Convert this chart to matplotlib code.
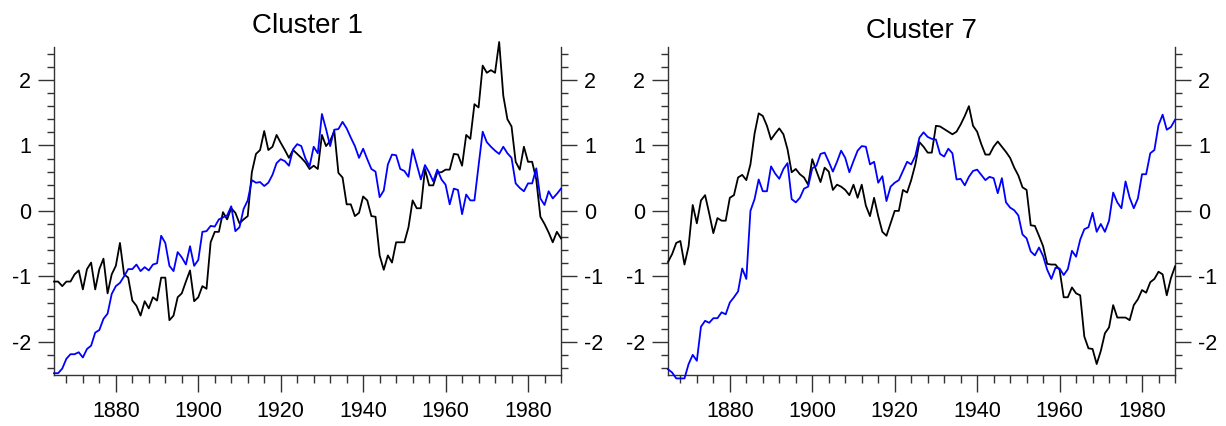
import numpy as np
import matplotlib
matplotlib.use("Agg")
import matplotlib.pyplot as plt
from matplotlib.ticker import MultipleLocator

plt.rcParams['font.family'] = ['Liberation Sans', 'DejaVu Sans']
plt.rcParams['axes.unicode_minus'] = False

years = np.arange(1865, 1989)

titles = ["Cluster 1", "Cluster 7"]

# Cluster 1: black and blue annual index series
c1_black = [
    -1.08, -1.08, -1.15, -1.08, -1.08, -0.97, -0.91, -1.20, -0.89, -0.79,
    -1.20, -0.89, -0.73, -1.26, -0.97, -0.84, -0.49, -0.97, -1.02, -1.37,
    -1.45, -1.60, -1.38, -1.49, -1.32, -1.37, -1.02, -1.02, -1.67, -1.60,
    -1.32, -1.26, -1.08, -0.91, -1.38, -1.32, -1.15, -1.19, -0.48, -0.32,
    -0.32, -0.02, -0.13, 0.04, -0.03, -0.19, -0.13, -0.08, 0.59, 0.87,
    0.93, 1.22, 0.93, 0.98, 1.16, 1.04, 0.93, 0.81, 0.93, 0.87,
    0.81, 0.74, 0.64, 0.69, 0.64, 1.16, 0.99, 1.07, 1.22, 0.58,
    0.51, 0.10, 0.10, -0.08, -0.03, 0.22, 0.16, -0.08, -0.09, -0.68,
    -0.90, -0.68, -0.79, -0.48, -0.48, -0.48, -0.25, 0.16, 0.04, 0.04,
    0.64, 0.39, 0.39, 0.59, 0.59, 0.63, 0.63, 0.87, 0.86, 0.69,
    1.16, 1.10, 1.63, 1.58, 2.22, 2.11, 2.15, 2.11, 2.58, 1.76,
    1.40, 1.29, 0.75, 0.63, 0.98, 0.75, 0.75, 0.48, -0.09, -0.20,
    -0.33, -0.48, -0.32, -0.42,
]
c1_blue = [
    -2.48, -2.48, -2.41, -2.26, -2.19, -2.19, -2.16, -2.24, -2.11, -2.06,
    -1.86, -1.82, -1.65, -1.57, -1.27, -1.15, -1.10, -1.00, -0.89, -0.89,
    -0.82, -0.92, -0.86, -0.91, -0.82, -0.80, -0.38, -0.49, -0.84, -0.92,
    -0.63, -0.71, -0.82, -0.54, -0.84, -0.75, -0.32, -0.31, -0.23, -0.24,
    -0.13, -0.10, -0.07, 0.07, -0.31, -0.25, 0.03, 0.16, 0.47, 0.43,
    0.44, 0.38, 0.43, 0.55, 0.73, 0.79, 0.76, 0.69, 0.94, 1.02,
    0.99, 0.80, 0.68, 0.98, 0.88, 1.48, 1.25, 0.99, 1.24, 1.25,
    1.36, 1.26, 1.12, 0.99, 0.81, 0.95, 0.79, 0.64, 0.60, 0.21,
    0.31, 0.71, 0.86, 0.85, 0.64, 0.61, 0.52, 0.94, 0.71, 0.48,
    0.70, 0.59, 0.45, 0.63, 0.48, 0.40, 0.10, 0.34, 0.32, -0.05,
    0.25, 0.16, 0.16, 0.69, 1.21, 1.05, 0.98, 0.92, 0.87, 0.98,
    0.88, 0.81, 0.42, 0.35, 0.30, 0.42, 0.42, 0.65, 0.19, 0.09,
    0.30, 0.19, 0.26, 0.34,
]

# Cluster 7: black and blue annual index series
c7_black = [
    -0.78, -0.66, -0.49, -0.46, -0.82, -0.54, 0.09, -0.19, 0.16, 0.24,
    -0.04, -0.34, -0.11, -0.15, -0.15, 0.20, 0.24, 0.51, 0.55, 0.47,
    0.71, 1.18, 1.49, 1.45, 1.30, 1.09, 1.18, 1.26, 1.17, 0.94,
    0.59, 0.64, 0.56, 0.51, 0.40, 0.79, 0.61, 0.44, 0.66, 0.60,
    0.32, 0.40, 0.37, 0.32, 0.24, 0.40, 0.20, 0.40, 0.08, -0.08,
    0.20, -0.08, -0.32, -0.38, -0.19, 0.00, 0.00, 0.32, 0.28, 0.47,
    0.71, 1.05, 0.98, 0.89, 0.89, 1.30, 1.29, 1.25, 1.21, 1.17,
    1.21, 1.32, 1.45, 1.60, 1.30, 1.21, 1.02, 0.86, 0.86, 0.98,
    1.06, 0.98, 0.90, 0.81, 0.66, 0.54, 0.36, 0.32, -0.22, -0.23,
    -0.38, -0.54, -0.81, -0.82, -0.82, -0.90, -1.32, -1.32, -1.17, -1.26,
    -1.29, -1.92, -2.10, -2.11, -2.34, -2.14, -1.87, -1.78, -1.44, -1.63,
    -1.63, -1.63, -1.67, -1.44, -1.35, -1.21, -1.25, -1.09, -1.04, -0.93,
    -0.97, -1.29, -1.03, -0.85,
]
c7_blue = [
    -2.42, -2.47, -2.56, -2.56, -2.56, -2.34, -2.20, -2.29, -1.77, -1.68,
    -1.71, -1.64, -1.64, -1.55, -1.58, -1.40, -1.32, -1.23, -0.88, -1.04,
    0.00, 0.18, 0.48, 0.30, 0.30, 0.68, 0.57, 0.49, 0.64, 0.73,
    0.18, 0.13, 0.20, 0.34, 0.37, 0.65, 0.69, 0.87, 0.89, 0.75,
    0.60, 0.75, 0.92, 0.81, 0.59, 0.76, 0.92, 0.99, 0.98, 0.71,
    0.75, 0.43, 0.53, 0.15, 0.37, 0.43, 0.47, 0.61, 0.75, 0.71,
    0.84, 1.12, 1.20, 1.13, 1.10, 1.09, 0.87, 0.83, 0.95, 0.88,
    0.48, 0.49, 0.39, 0.52, 0.61, 0.63, 0.55, 0.47, 0.52, 0.50,
    0.27, 0.50, 0.13, 0.05, 0.01, -0.07, -0.36, -0.42, -0.62, -0.68,
    -0.56, -0.69, -0.90, -1.04, -0.87, -0.88, -0.98, -0.89, -0.61, -0.70,
    -0.44, -0.28, -0.25, -0.03, -0.32, -0.20, -0.32, -0.15, 0.28, 0.13,
    0.04, 0.45, 0.20, 0.04, 0.19, 0.56, 0.56, 0.88, 0.93, 1.31,
    1.47, 1.24, 1.28, 1.39,
]

panels = [
    (titles[0], c1_black, c1_blue),
    (titles[1], c7_black, c7_blue),
]

fig = plt.figure(figsize=(12.26, 4.26), dpi=100)
W, H = 1226.0, 426.0
boxes = [(54, 561), (668, 1175)]
top_px, bot_px = 47.25, 374.5
title_offset = [1.044, 1.027]

axis_color = "#333333"

for k, (title, black, blue) in enumerate(panels):
    x0, x1 = boxes[k]
    ax = fig.add_axes([x0 / W, 1 - bot_px / H, (x1 - x0) / W, (bot_px - top_px) / H])
    ax.plot(years, black, color="black", lw=1.3, clip_on=False, zorder=3)
    ax.plot(years, blue, color="#0000ff", lw=1.3, clip_on=False, zorder=3)

    ax.set_xlim(1865, 1988)
    ax.set_ylim(-2.5, 2.5)

    ax.xaxis.set_major_locator(MultipleLocator(20))
    ax.xaxis.set_minor_locator(MultipleLocator(4))
    ax.yaxis.set_major_locator(MultipleLocator(1))
    ax.yaxis.set_minor_locator(MultipleLocator(0.2))

    ax.spines["top"].set_visible(False)
    for s in ("left", "right", "bottom"):
        ax.spines[s].set_color(axis_color)
        ax.spines[s].set_linewidth(1.0)

    ax.tick_params(axis="both", which="both", direction="out", color=axis_color,
                   width=1.0, labelsize=15.5)
    ax.tick_params(axis="y", which="both", left=True, right=True,
                   labelleft=True, labelright=True)
    ax.tick_params(axis="y", which="major", length=11.5, pad=5)
    ax.tick_params(axis="y", which="minor", length=5.2)
    ax.tick_params(axis="x", which="major", length=12, pad=7)
    ax.tick_params(axis="x", which="minor", length=6)
    ax.tick_params(axis="x", which="both", top=False)

    ax.set_xticks([1880, 1900, 1920, 1940, 1960, 1980])
    ax.set_yticks([-2, -1, 0, 1, 2])

    ax.text(0.5, title_offset[k], title, transform=ax.transAxes,
            ha="center", va="baseline", fontsize=20)

fig.savefig("out.png", dpi=100)
